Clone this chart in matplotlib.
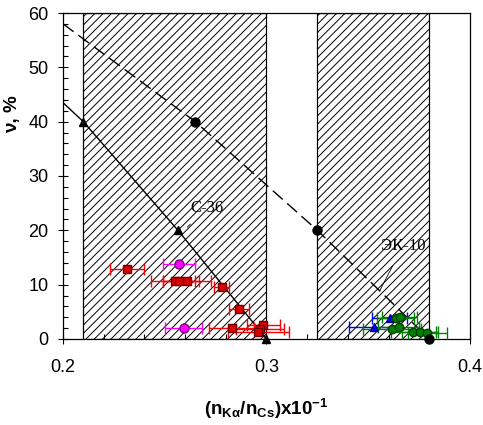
import matplotlib
matplotlib.use("Agg")
import matplotlib.pyplot as plt
from matplotlib.patches import Rectangle
from matplotlib.ticker import MultipleLocator

plt.rcParams['font.family'] = ['Liberation Sans', 'DejaVu Sans']
plt.rcParams['mathtext.fontset'] = 'custom'
plt.rcParams['mathtext.rm'] = 'Liberation Sans'
plt.rcParams['mathtext.bf'] = 'Liberation Sans:bold'
plt.rcParams['mathtext.it'] = 'Liberation Sans:italic'
plt.rcParams['hatch.linewidth'] = 0.7

# ---- data ----
# hatched regions (x ranges)
band1 = (0.21, 0.30)
band2 = (0.325, 0.38)

# C-36 curve (solid) and its points (triangles)
c36_line_x = [0.200, 0.210, 0.2565, 0.300]
c36_line_y = [43.5, 40.0, 20.0, 0.0]
c36_pts_x = [0.210, 0.2565, 0.300]
c36_pts_y = [40.0, 20.0, 0.0]

# EK-10 curve (dashed) and its points (circles)
ek_line_x = [0.200, 0.265, 0.325, 0.380]
ek_line_y = [58.0, 40.0, 20.0, 0.0]
ek_pts_x = [0.265, 0.325, 0.380]
ek_pts_y = [40.0, 20.0, 0.0]

# red squares with x error
red_x = [0.2313, 0.2550, 0.2571, 0.2608, 0.2779, 0.2865, 0.2829, 0.2985, 0.2968, 0.2960]
red_y = [12.8, 10.7, 10.6, 10.7, 9.6, 5.6, 2.1, 2.6, 1.9, 1.3]
red_xerr = [0.0084, 0.0118, 0.008, 0.0118, 0.0035, 0.005, 0.011, 0.008, 0.012, 0.015]

# magenta circles
mag_x = [0.2570, 0.2593]
mag_y = [13.8, 1.95]
mag_xerr = [0.008, 0.0092]

# blue triangles
blue_x = [0.3605, 0.3530]
blue_y = [3.9, 2.15]
blue_xerr = [0.0085, 0.0123]

# green circles
green_x = [0.3635, 0.3655, 0.3615, 0.3650, 0.3721, 0.3754, 0.3790]
green_y = [3.8, 4.0, 1.8, 2.2, 1.3, 1.3, 1.1]
green_xerr = [0.009, 0.0085, 0.0143, 0.010, 0.011, 0.009, 0.0095]

fig = plt.figure(figsize=(4.83, 4.25), dpi=100)
ax = fig.add_axes([0.1304, 0.2024, 0.8427, 0.767])

for (a, b) in (band1, band2):
    ax.add_patch(Rectangle((a, 0), b - a, 60, facecolor='white', edgecolor='black',
                           hatch='////', linewidth=0.9, zorder=1))

ax.plot(c36_line_x, c36_line_y, color='black', lw=1.0, zorder=3)
ax.plot(ek_line_x, ek_line_y, color='black', lw=1.0, dashes=(9.5, 4.3), zorder=3)

ax.plot(c36_pts_x, c36_pts_y, linestyle='none', marker='^', color='black', ms=6, zorder=6, clip_on=False)
ax.plot(ek_pts_x, ek_pts_y, linestyle='none', marker='o', color='black', ms=6.5, zorder=6, clip_on=False)

ax.errorbar(red_x, red_y, xerr=red_xerr, fmt='s', color='#ff0000', ecolor='#ff0000',
            mfc='#dd0000', mec='#700000', ms=5.5, elinewidth=1, capsize=4, zorder=5)
ax.errorbar(mag_x, mag_y, xerr=mag_xerr, fmt='o', color='#ff00ff', ecolor='#ff00ff',
            mfc='#ff00ff', mec='#800080', ms=6.5, elinewidth=1, capsize=4, zorder=5)
ax.errorbar(blue_x, blue_y, xerr=blue_xerr, fmt='^', color='#0000ff', ecolor='#0000ff',
            mfc='#0000ff', mec='#000080', ms=6, elinewidth=1, capsize=4, zorder=5)
ax.errorbar(green_x, green_y, xerr=green_xerr, fmt='o', color='#008000', ecolor='#008000',
            mfc='#008000', mec='#004000', ms=6, elinewidth=1, capsize=4, zorder=5)

ax.annotate('С-36', xy=(0.2611, 20.6), xytext=(0.2710, 24.2), ha='center', va='center',
            family=['Liberation Serif', 'DejaVu Serif'], fontsize=12,
            arrowprops=dict(arrowstyle='-', color='black', lw=0.6, shrinkA=6, shrinkB=0))
ax.annotate('ЭК-10', xy=(0.3558, 9.0), xytext=(0.3672, 17.2), ha='center', va='center',
            family=['Liberation Serif', 'DejaVu Serif'], fontsize=12,
            arrowprops=dict(arrowstyle='-', color='black', lw=0.6, shrinkA=8, shrinkB=0))

ax.set_xlim(0.2, 0.4)
ax.set_ylim(0, 60)
ax.xaxis.set_major_locator(MultipleLocator(0.1))
ax.xaxis.set_minor_locator(MultipleLocator(0.02))
ax.yaxis.set_major_locator(MultipleLocator(10))
ax.yaxis.set_minor_locator(MultipleLocator(2))
ax.set_xticklabels([], minor=True)
ax.xaxis.set_major_formatter(matplotlib.ticker.FuncFormatter(lambda v, p: f'{v:.1f}'))
ax.tick_params(which='major', direction='inout', length=7, width=0.8, labelsize=13)
ax.tick_params(which='minor', direction='in', length=3.5, width=0.8)
ax.tick_params(axis='x', which='major', pad=11)
ax.tick_params(axis='y', which='major', pad=7)
for s in ax.spines.values():
    s.set_linewidth(0.9)

fig.text(266 / 483, 1 - 409 / 425, r'$\mathbf{(n_{K\alpha}/n_{Cs})x10^{-1}}$', fontsize=13.5,
         ha='center', va='center')
ax.set_ylabel('ν, %', fontsize=13.5, fontweight='bold')
ax.yaxis.set_label_coords(-0.103, 0.69)

fig.savefig('out.png', dpi=100)
